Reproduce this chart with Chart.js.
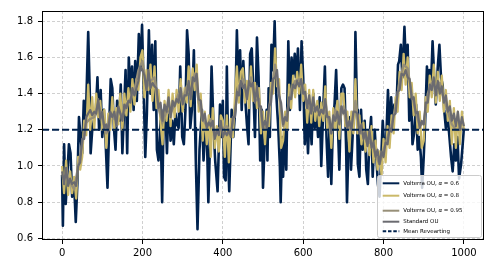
<!DOCTYPE html>
<html><head><meta charset="utf-8">
<script src="https://cdn.jsdelivr.net/npm/chart.js@4/dist/chart.umd.min.js"></script>
<style>html,body{margin:0;padding:0;background:#fff;overflow:hidden}canvas{display:block}</style>
</head><body>
<canvas id="c" width="494" height="274"></canvas>
<script>
// ---- data ----
const navyT = [
0,2,5,9,13,17,21,25,30,34,
38,42,46,50,54,59,65,69,71,75,
79,84,88,92,96,100,104,108,113,117,
121,125,129,133,137,142,146,150,154,158,
162,166,170,174,178,182,186,191,195,199,
203,207,211,216,220,224,228,232,236,240,
245,249,253,257,261,265,270,274,278,282,
286,290,294,299,303,307,311,315,319,323,
328,331,333,337,342,348,352,356,360,364,
368,372,377,381,387,393,397,400,403,407,
410,414,416,422,426,431,435,439,443,447,
451,455,460,464,468,472,476,480,485,489,
493,497,500,504,509,511,514,517,521,525,
529,533,538,542,544,548,550,554,558,563,
567,571,575,579,583,587,592,596,600,604,
608,612,616,621,625,629,633,637,641,645,
650,654,658,662,666,670,674,678,682,686,
690,695,699,703,707,709,714,717,719,724,
728,730,734,736,740,744,748,753,757,761,
765,769,773,778,782,786,790,794,798,802,
807,811,815,819,823,827,832,836,839,843,
847,852,856,860,864,868,872,876,881,885,
889,893,896,900,903,908,911,914,918,922,
926,930,935,939,943,947,951,955,959,964,
968,972,976,980,984,988,993,997,1000];
const navyV = [
0.95,0.67,1.12,0.79,0.95,1.12,1.07,0.83,0.90,0.69,
0.90,1.27,1.16,1.07,1.36,1.25,1.74,1.40,1.07,1.20,
1.25,1.30,1.49,1.20,1.42,1.16,1.31,1.15,0.88,1.21,
1.48,1.43,1.21,1.09,1.36,1.25,1.45,1.07,1.30,1.53,
1.07,1.60,1.40,1.55,1.31,1.58,1.36,1.73,1.53,1.78,
1.43,1.05,1.29,1.75,1.40,1.67,1.31,1.69,1.09,1.03,
1.25,0.80,1.31,1.31,1.07,1.36,1.14,1.25,1.12,1.29,
1.23,1.21,1.55,1.16,1.12,1.31,1.75,1.62,1.21,1.31,
1.64,1.21,1.01,0.65,1.09,1.31,1.03,1.18,1.21,0.80,
1.12,1.55,1.21,1.03,0.86,1.34,1.16,1.36,0.94,0.92,
1.55,0.98,0.86,1.31,1.16,1.31,1.75,1.42,1.64,1.31,
1.58,1.40,1.23,1.12,1.62,1.65,1.42,1.16,1.71,1.49,
1.03,1.31,0.88,1.12,1.31,1.03,1.43,1.16,1.67,1.53,
1.80,1.40,1.21,1.00,0.80,1.16,0.94,1.20,0.98,1.69,
1.31,1.60,1.49,1.62,1.49,1.65,1.31,1.69,1.49,1.12,
1.31,1.07,1.32,1.12,1.40,1.21,1.31,1.16,1.38,1.00,
1.32,1.55,1.16,0.94,1.25,0.90,1.23,1.34,1.53,1.25,
0.98,1.43,1.45,1.43,1.09,0.80,1.21,1.27,0.98,1.21,
1.31,1.74,1.31,1.01,0.94,1.31,1.09,1.25,0.98,0.90,
1.16,1.27,0.94,1.20,1.05,0.90,0.83,1.03,1.25,1.09,
1.16,1.42,1.16,1.38,1.21,1.34,1.31,1.56,1.58,1.67,
1.49,1.77,1.53,1.67,1.25,1.45,1.12,1.18,1.34,1.09,
1.16,1.05,0.88,1.05,1.21,1.55,1.40,1.53,1.43,1.69,
1.49,1.34,1.55,1.67,1.49,1.45,1.31,1.21,1.29,1.16,
1.05,0.97,1.12,1.03,1.16,0.93,1.01,1.12,1.21];

const goldStep = 5;
const goldV = [
1.00,0.85,1.03,0.84,0.97,0.85,0.94,0.82,1.05,0.98,
1.05,1.25,1.17,1.45,1.20,1.38,1.20,1.40,1.27,1.36,
1.20,1.31,1.10,1.29,1.20,1.38,1.20,1.32,1.23,1.40,
1.20,1.40,1.28,1.43,1.30,1.48,1.34,1.48,1.42,1.60,
1.64,1.38,1.53,1.42,1.56,1.36,1.55,1.32,1.42,1.24,
1.12,1.36,1.25,1.42,1.22,1.40,1.27,1.42,1.30,1.48,
1.30,1.43,1.35,1.55,1.33,1.54,1.42,1.56,1.30,1.40,
1.14,1.30,1.12,1.28,1.05,1.32,1.10,1.22,1.08,1.28,
1.25,1.05,1.28,1.02,1.26,1.16,1.37,1.55,1.35,1.52,
1.54,1.35,1.47,1.32,1.55,1.36,1.46,1.32,1.43,1.18,
1.30,1.12,1.30,1.22,1.46,1.40,1.65,1.44,1.48,1.10,
1.14,1.30,1.20,1.45,1.32,1.50,1.38,1.52,1.40,1.56,
1.36,1.45,1.24,1.42,1.24,1.42,1.25,1.36,1.22,1.35,
1.25,1.44,1.20,1.30,1.10,1.32,1.20,1.36,1.15,1.40,
1.40,1.22,1.30,1.08,1.30,1.18,1.48,1.18,1.28,1.12,
1.24,1.08,1.20,1.06,1.22,1.02,1.14,0.98,1.08,0.95,
1.15,1.02,1.22,1.10,1.28,1.18,1.38,1.30,1.52,1.42,
1.62,1.45,1.60,1.38,1.46,1.28,1.40,1.18,1.30,1.10,
1.14,1.38,1.30,1.50,1.38,1.56,1.35,1.52,1.36,1.50,
1.30,1.42,1.25,1.36,1.12,1.32,1.10,1.30,1.12,1.30,
1.20];

const taupeStep = 10;
const taupeV = [
0.94,0.95,0.91,0.87,1.00,1.12,1.24,1.26,1.27,1.35,
1.26,1.18,1.29,1.26,1.31,1.27,1.34,1.37,1.42,1.53,
1.58,1.43,1.47,1.49,1.32,1.24,1.30,1.29,1.34,1.40,
1.36,1.44,1.40,1.51,1.35,1.26,1.22,1.26,1.16,1.21,
1.21,1.22,1.18,1.30,1.44,1.48,1.38,1.49,1.36,1.37,
1.20,1.22,1.40,1.56,1.40,1.22,1.30,1.42,1.47,1.48,
1.44,1.33,1.30,1.32,1.31,1.31,1.28,1.18,1.31,1.24,
1.33,1.20,1.21,1.36,1.18,1.18,1.12,1.14,1.06,1.01,
1.09,1.16,1.23,1.33,1.47,1.56,1.54,1.40,1.30,1.22,
1.24,1.40,1.46,1.43,1.46,1.37,1.30,1.23,1.20,1.20,
1.21];

const grayStep = 5;
const grayV = [
0.97,0.90,0.99,0.89,0.93,0.90,0.91,0.89,1.00,1.02,
1.15,1.15,1.27,1.29,1.31,1.28,1.30,1.29,1.37,1.26,
1.30,1.21,1.23,1.19,1.30,1.27,1.30,1.22,1.33,1.29,
1.25,1.34,1.32,1.36,1.35,1.43,1.39,1.43,1.47,1.55,
1.53,1.50,1.42,1.53,1.43,1.46,1.44,1.43,1.32,1.35,
1.25,1.34,1.30,1.38,1.27,1.36,1.33,1.37,1.35,1.43,
1.34,1.39,1.39,1.47,1.37,1.49,1.47,1.51,1.37,1.36,
1.25,1.29,1.21,1.24,1.22,1.25,1.15,1.20,1.17,1.25,
1.16,1.19,1.17,1.20,1.16,1.27,1.27,1.41,1.39,1.47,
1.43,1.45,1.37,1.47,1.44,1.46,1.35,1.44,1.33,1.33,
1.21,1.25,1.21,1.33,1.35,1.48,1.49,1.53,1.39,1.35,
1.23,1.27,1.25,1.38,1.37,1.45,1.43,1.47,1.44,1.48,
1.40,1.41,1.32,1.39,1.29,1.38,1.30,1.33,1.28,1.31,
1.29,1.37,1.27,1.27,1.18,1.28,1.25,1.30,1.23,1.33,
1.29,1.31,1.21,1.25,1.20,1.30,1.30,1.29,1.18,1.23,
1.15,1.19,1.11,1.20,1.10,1.13,1.05,1.09,1.01,1.08,
1.05,1.13,1.12,1.21,1.19,1.28,1.29,1.41,1.42,1.51,
1.50,1.53,1.49,1.48,1.37,1.38,1.29,1.30,1.21,1.25,
1.23,1.35,1.35,1.45,1.42,1.49,1.39,1.47,1.40,1.44,
1.35,1.39,1.30,1.33,1.25,1.29,1.22,1.30,1.20,1.27,
1.22];

const meanLevel = 1.2;
const xTicks = [0, 200, 400, 600, 800, 1000];
const yTicks = [0.6, 0.8, 1.0, 1.2, 1.4, 1.6, 1.8];
const legendLabels = ['Volterra OU, α = 0.6', 'Volterra OU, α = 0.8', 'Volterra OU, α = 0.95', 'Standard OU', 'Mean Revearting'];

const C_NAVY = '#00224e', C_GOLD = '#cbb969', C_TAUPE = '#978f78', C_GRAY = '#6b6b70';
const FONT = "'DejaVu Sans', sans-serif";

const stepData = (arr, step) => arr.map((v, i) => ({x: i * step, y: v}));

const frame = {
  id: 'frame',
  afterDraw(chart) {
    const {ctx, chartArea: a} = chart;
    ctx.save();
    ctx.strokeStyle = '#000';
    ctx.lineWidth = 1;
    ctx.strokeRect(Math.round(a.left) + 0.5, Math.round(a.top) + 0.5, Math.round(a.right - a.left) - 1, Math.round(a.bottom - a.top) - 1);
    // legend
    const x0 = 377.5, y0 = 175.5, w = 104, h = 62, r = 2;
    ctx.beginPath();
    ctx.moveTo(x0 + r, y0);
    ctx.arcTo(x0 + w, y0, x0 + w, y0 + h, r);
    ctx.arcTo(x0 + w, y0 + h, x0, y0 + h, r);
    ctx.arcTo(x0, y0 + h, x0, y0, r);
    ctx.arcTo(x0, y0, x0 + w, y0, r);
    ctx.closePath();
    ctx.fillStyle = 'rgba(255,255,255,0.8)';
    ctx.fill();
    ctx.strokeStyle = '#cccccc';
    ctx.lineWidth = 1;
    ctx.stroke();
    const rowsY = [183.3, 195.7, 210.7, 221.7, 231.3];
    const cols = [C_NAVY, C_GOLD, C_TAUPE, C_GRAY, C_NAVY];
    ctx.textBaseline = 'middle';
    legendLabels.forEach((lab, i) => {
      const y = rowsY[i];
      ctx.beginPath();
      ctx.strokeStyle = cols[i];
      ctx.lineWidth = 2;
      ctx.setLineDash(i === 4 ? [3.5, 1.8] : []);
      ctx.moveTo(382.7, y); ctx.lineTo(399.3, y);
      ctx.stroke();
      ctx.setLineDash([]);
      ctx.fillStyle = '#000';
      let x = 403.3;
      const k = lab.indexOf('α');
      if (k >= 0) {
        const pre = lab.slice(0, k), post = lab.slice(k + 1);
        ctx.font = `5.5px ${FONT}`;
        ctx.fillText(pre, x, y); x += ctx.measureText(pre).width;
        ctx.font = `italic 5.5px ${FONT}`;
        ctx.fillText('α', x, y); x += ctx.measureText('α').width;
        ctx.font = `5.5px ${FONT}`;
        ctx.fillText(post, x, y);
      } else {
        ctx.font = `5.5px ${FONT}`;
        ctx.fillText(lab, x, y);
      }
    });
    ctx.restore();
  }
};

const lineDs = (label, data, color, order, width, extra) => Object.assign({
  label, data, borderColor: color, backgroundColor: color, borderWidth: width,
  pointRadius: 0, tension: 0, fill: false, order, borderJoinStyle: 'round', borderCapStyle: 'butt'
}, extra || {});

new Chart(document.getElementById('c'), {
  type: 'line',
  data: {
    datasets: [
      lineDs(legendLabels[0], navyT.map((t, i) => ({x: t, y: navyV[i]})), C_NAVY, 5, 2.6),
      lineDs(legendLabels[1], stepData(goldV, goldStep), C_GOLD, 4, 2.3),
      lineDs(legendLabels[2], stepData(taupeV, taupeStep), C_TAUPE, 3, 2.3),
      lineDs(legendLabels[3], stepData(grayV, grayStep), C_GRAY, 2, 2.2),
      lineDs(legendLabels[4], [{x: -50, y: meanLevel}, {x: 1050, y: meanLevel}], C_NAVY, 1, 2, {borderDash: [7, 3]})
    ]
  },
  options: {
    responsive: false, animation: false, devicePixelRatio: 1,
    layout: {padding: {left: 0, right: 10, top: 10, bottom: 0}},
    plugins: {legend: {display: false}, tooltip: {enabled: false}},
    scales: {
      x: {
        type: 'linear', min: -50, max: 1050,
        afterBuildTicks: s => { s.ticks = xTicks.map(v => ({value: v})); },
        afterFit: s => { s.height = 34; },
        grid: {color: 'rgba(176,176,176,0.75)', lineWidth: 0.8, tickColor: '#000', tickLength: 4, tickWidth: 1},
        border: {display: false, dash: [3, 2]},
        ticks: {color: '#000', font: {family: FONT, size: 10}, padding: 3, maxRotation: 0, autoSkip: false, callback: v => String(v)}
      },
      y: {
        type: 'linear', min: 0.5906, max: 1.857,
        afterBuildTicks: s => { s.ticks = yTicks.map(v => ({value: v})); },
        afterFit: s => { s.width = 42; },
        grid: {color: 'rgba(176,176,176,0.75)', lineWidth: 0.8, tickColor: '#000', tickLength: 4, tickWidth: 1},
        border: {display: false, dash: [3, 2]},
        ticks: {color: '#000', font: {family: FONT, size: 10}, padding: 5, autoSkip: false, callback: v => v.toFixed(1)}
      }
    }
  },
  plugins: [frame]
});
</script>
</body></html>
